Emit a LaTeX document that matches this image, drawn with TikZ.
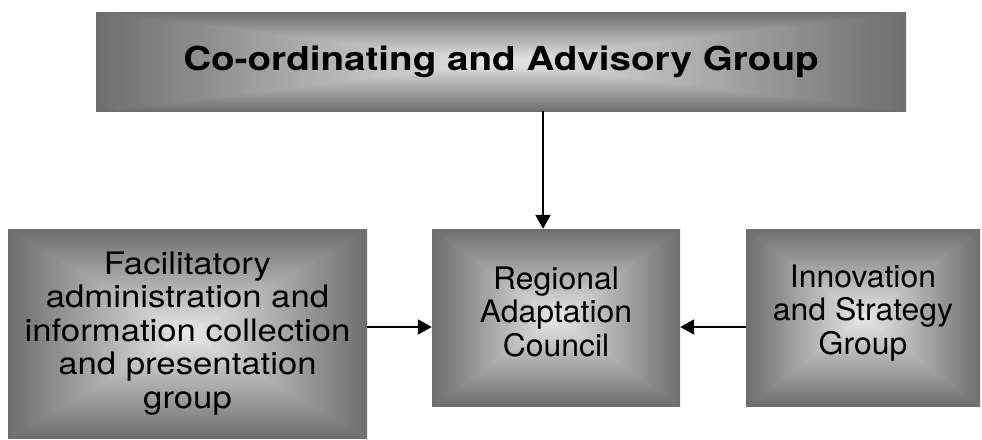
\documentclass[tikz,border=0pt]{standalone}
\usepackage{fontspec}
\setmainfont{TeX Gyre Heros}
\newfontfamily\headfont{TeX Gyre Heros}[FakeStretch=1.17]
\newfontfamily\widefont{TeX Gyre Heros}[FakeStretch=1.12]
\newfontfamily\bodyfont{TeX Gyre Heros}[FakeStretch=1.03]
\usetikzlibrary{arrows.meta}

% Rectangular gradient: grey value falls off linearly from the centre
% (0.91) to the rim (0.43), following max(|dx|,|dy|) so that the
% creases run from the corners to the centre.
\pgfdeclarefunctionalshading{rectglow}{\pgfpoint{0bp}{0bp}}{\pgfpoint{100bp}{100bp}}{}{
  50 sub abs 25 div exch 50 sub abs 25 div
  2 copy lt {exch} if pop
  dup 1 gt {pop 1} if
  -0.48 mul 0.91 add dup dup
}

\tikzset{
  gbox/.style={
    shade, shading=rectglow,
    inner sep=0pt, align=center,
    font=\bodyfont\fontsize{31}{33.5}\selectfont
  },
  link/.style={line width=2pt, -{Triangle[length=14pt,width=15pt]}}
}

\begin{document}
\begin{tikzpicture}[x=1pt,y=-1pt]
  \useasboundingbox (0,0) rectangle (982,439);

  \node[gbox, minimum width=810pt, minimum height=99pt,
        font=\headfont\fontsize{33}{38}\selectfont\bfseries]
    (cag) at (501,61.5) {Co-ordinating and Advisory Group};

  \node[gbox, minimum width=359pt, minimum height=209pt,
        font=\widefont\fontsize{31}{33.5}\selectfont]
    (fac) at (187.5,333.5)
    {Facilitatory\\administration and\\information collection\\and presentation\\group};

  \node[gbox, minimum width=248pt, minimum height=177pt, text depth=12pt]
    (rac) at (556,317.5) {Regional\\Adaptation\\Council};

  \node[gbox, minimum width=234pt, minimum height=177pt, text depth=16.5pt]
    (isg) at (863,317.5) {Innovation\\and Strategy\\Group};

  \coordinate (vx) at (543,0);
  \coordinate (hy) at (0,327);

  \draw[link] (cag.south -| vx) -- (rac.north -| vx);
  \draw[link] (fac.east |- hy) -- (rac.west |- hy);
  \draw[link] (isg.west |- hy) -- (rac.east |- hy);
\end{tikzpicture}
\end{document}
